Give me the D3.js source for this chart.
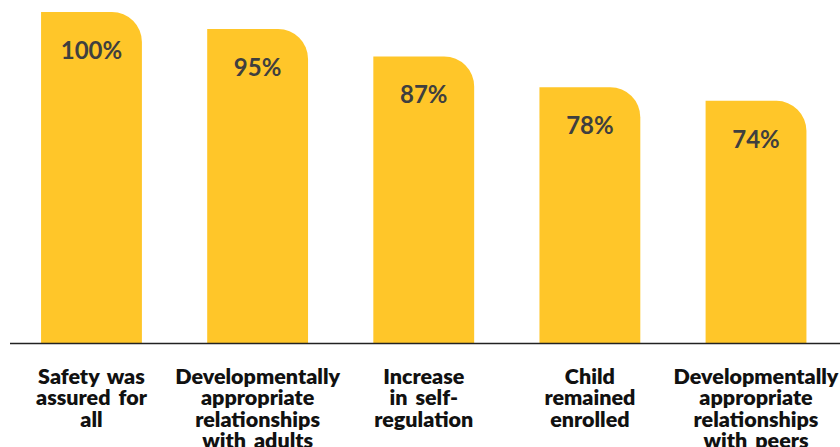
<!DOCTYPE html>
<html lang="en">
<head>
<meta charset="UTF-8" />
<title>Outcomes</title>
<script src="https://d3js.org/d3.v7.min.js"></script>
<style>
  body { margin: 0; background: #fff; }
  .val { font-family: Lato, sans-serif; font-weight: 700; font-size: 24px; fill: #3f3f3f; }
  .cat { font-family: Lato, sans-serif; font-weight: 800; font-size: 21.5px; word-spacing: 3px; fill: #111; }
</style>
</head>
<body>
<script>
var categories = [
  ["Safety was", "assured for", "all"],
  ["Developmentally", "appropriate", "relationships", "with adults"],
  ["Increase", "in self-", "regulation"],
  ["Child", "remained", "enrolled"],
  ["Developmentally", "appropriate", "relationships", "with peers"]
];
var values = [100, 95, 87, 78, 74];
var valueLabels = ["100%", "95%", "87%", "78%", "74%"];

var width = 840, height = 447;
var baseY = 343.5, topY = 12;
var r = 30;

var svg = d3.select("body").append("svg").attr("width", width).attr("height", height);

var x = d3.scaleBand().domain(d3.range(values.length)).range([8.5, 839]).paddingInner(0.393).paddingOuter(0.196);
// the value axis does not start exactly at zero in the original
var y = d3.scaleLinear().domain([3, 100]).range([baseY, topY]);

// bar with only the top right corner rounded
function barPath(i) {
  var x0 = x(i), x1 = x(i) + x.bandwidth(), y0 = y(values[i]), y1 = baseY;
  return "M" + x0 + "," + y1 + "L" + x0 + "," + y0 + "L" + (x1 - r) + "," + y0 +
    "A" + r + "," + r + " 0 0 1 " + x1 + "," + (y0 + r) + "L" + x1 + "," + y1 + "Z";
}

svg.selectAll(".bar").data(values).enter().append("path")
  .attr("class", "bar")
  .attr("d", function(d, i) { return barPath(i); })
  .attr("fill", "#ffc629");

svg.selectAll(".val").data(values).enter().append("text")
  .attr("class", "val")
  .attr("x", function(d, i) { return x(i) + x.bandwidth() / 2; })
  .attr("y", function(d) { return y(d) + 47; })
  .attr("text-anchor", "middle")
  .text(function(d, i) { return valueLabels[i]; });

svg.append("line")
  .attr("x1", 10).attr("x2", width)
  .attr("y1", baseY).attr("y2", baseY)
  .attr("stroke", "#222").attr("stroke-width", 1.5);

var cat = svg.selectAll(".cat").data(categories).enter().append("text")
  .attr("class", "cat")
  .attr("text-anchor", "middle");
cat.each(function(lines, i) {
  var t = d3.select(this);
  lines.forEach(function(l, j) {
    t.append("tspan")
      .attr("x", x(i) + x.bandwidth() / 2)
      .attr("y", 384 + j * 21.3)
      .text(l);
  });
});
</script>
</body>
</html>
